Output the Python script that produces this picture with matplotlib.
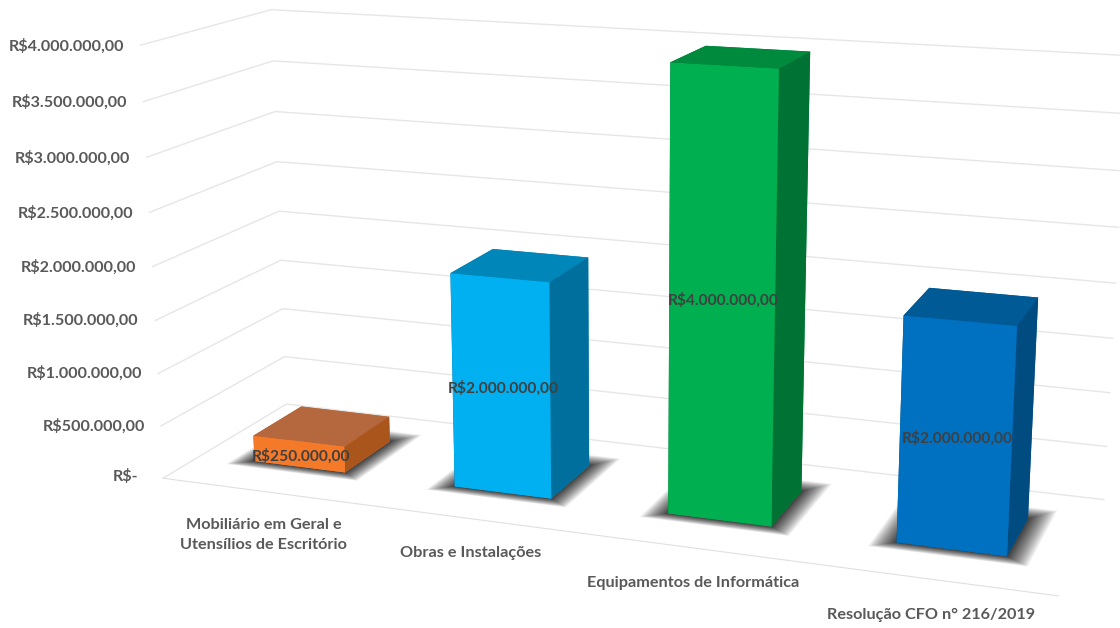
import numpy as np
import matplotlib
matplotlib.use('Agg')
import matplotlib.pyplot as plt
from mpl_toolkits.mplot3d import proj3d
from mpl_toolkits.mplot3d.art3d import Poly3DCollection

categories = ['Mobiliário em Geral e\nUtensílios de Escritório', 'Obras e Instalações',
              'Equipamentos de Informática', 'Resolução CFO n° 216/2019']
values = [250000, 2000000, 4000000, 2000000]
bar_labels = ['R$250.000,00', 'R$2.000.000,00', 'R$4.000.000,00', 'R$2.000.000,00']
tick_values = [0, 500000, 1000000, 1500000, 2000000, 2500000, 3000000, 3500000, 4000000]
tick_labels = ['R$-', 'R$500.000,00', 'R$1.000.000,00', 'R$1.500.000,00', 'R$2.000.000,00',
               'R$2.500.000,00', 'R$3.000.000,00', 'R$3.500.000,00', 'R$4.000.000,00']

# front, top, side
front_colors = ['#F47A2A', '#00B0F0', '#00B050', '#0070C0']
top_colors = ['#B5683D', '#0086B8', '#008A3E', '#005A96']
side_colors = ['#A9551B', '#006F9E', '#007233', '#004B80']

plt.rcParams['font.family'] = ['Lato', 'DejaVu Sans']
plt.rcParams['font.weight'] = 'bold'
plt.rcParams['grid.color'] = '#E6E6E6'
plt.rcParams['grid.linewidth'] = 1.0
plt.rcParams['axes.edgecolor'] = '#E0E0E0'

W, H = 1120, 628
side = 1300
cx, cy = 627.5, 353  # where the middle of the box lands, pixels from bottom left

fig = plt.figure(figsize=(W / 100, H / 100), dpi=100)
ax = fig.add_axes([(cx - 0.5135 * side) / W, (cy - 0.5135 * side) / H, side / W, side / H],
                  projection='3d', computed_zorder=False)
ax.patch.set_alpha(0)
ax.view_init(elev=14.5, azim=-70)
ax.set_proj_type('persp', focal_length=0.329)
ax.set_box_aspect((921, 267, 449), zoom=0.797)

ax.set_xlim(-0.5, 3.5, view_margin=0)
ax.set_ylim(0, 1, view_margin=0)
ax.set_zlim(0, 4000000, view_margin=0)

ax.set_xticks([])
ax.set_yticks([])
ax.set_zticks(tick_values)
ax.set_zticklabels([])
ax.tick_params(axis='z', color=(1, 1, 1, 0))
for axis in (ax.xaxis, ax.yaxis, ax.zaxis):
    axis.set_pane_color((1, 1, 1, 0))
    axis.pane.set_edgecolor((1, 1, 1, 0))
ax.yaxis.line.set_color((1, 1, 1, 0))
ax.zaxis.line.set_color((1, 1, 1, 0))


def label(x, y, z, text, **kwargs):
    # text stays flat, so put it where the 3d point lands
    px, py, _ = proj3d.proj_transform(x, y, z, ax.get_proj())
    return ax.text2D(px, py, text, transform=ax.transData, **kwargs)


bar_w = 0.46
y0, bar_d = 0.30, 0.40
xs = np.arange(len(values))

# soft shadows on the floor, stacked see-through rectangles
for x in xs:
    left, right = x - bar_w / 2, x + bar_w / 2
    for s in np.linspace(0, 1, 24):
        m = 0.1 * (1 - s) ** 1.3
        rect = [(left - m, y0 - m * 0.7, 0), (right + m, y0 - m * 0.7, 0),
                (right + m, y0 + bar_d + m * 1.2, 0), (left - m, y0 + bar_d + m * 1.2, 0)]
        ax.add_collection3d(Poly3DCollection([rect], facecolors=(0, 0, 0, 0.055),
                                             edgecolors='none', zorder=2))

face_colors = []
for f, t, s in zip(front_colors, top_colors, side_colors):
    # bar3d face order: bottom, top, front, back, left, right
    face_colors += [f, t, f, t, s, s]
ax.bar3d(xs - bar_w / 2, [y0] * len(xs), [0] * len(xs), bar_w, bar_d, values,
         color=face_colors, shade=False, zorder=3)

for x, v, lab in zip(xs, values, bar_labels):
    label(x + 0.008, y0, v / 2 - 15000, lab, ha='center', va='center', fontsize=11.2,
          color='#404040', zorder=5)

for v, lab in zip(tick_values, tick_labels):
    label(-0.63 if v == 0 else -0.58, 0, v - 15000, lab, ha='right', va='center', fontsize=11.6,
          color='#595959')

for x, lab in zip(xs, categories):
    label(x * 0.965 + 0.165, -0.25, 0, lab, ha='center', va='top', fontsize=11.7, color='#595959',
          linespacing=1.6)

fig.savefig('out.png', dpi=100)
